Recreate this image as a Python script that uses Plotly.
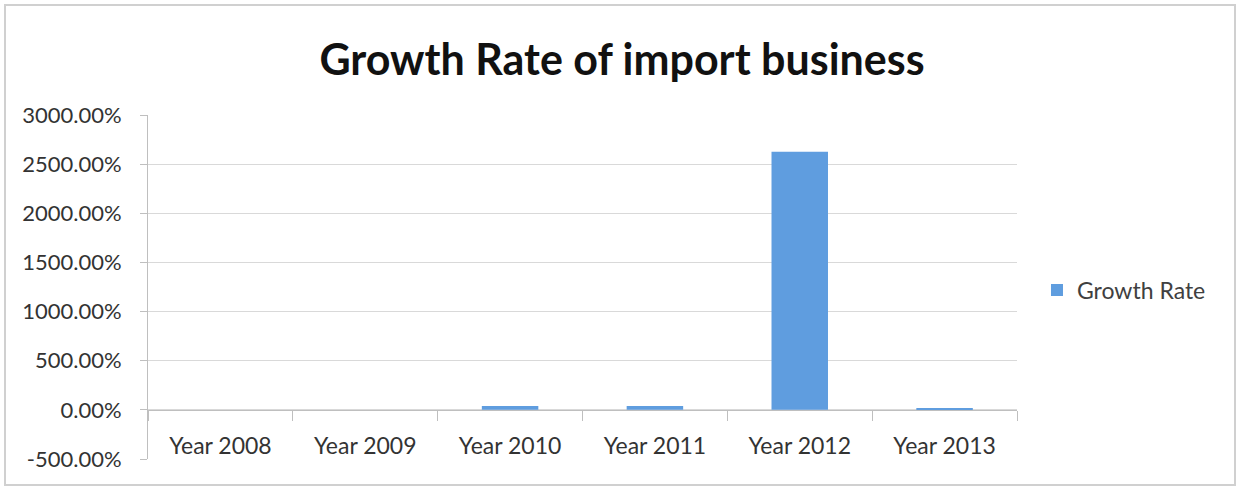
import plotly.graph_objects as go

# Growth rate of the import business by year (percent)
years = ["Year 2008", "Year 2009", "Year 2010", "Year 2011", "Year 2012", "Year 2013"]
growth_rate = [None, 0.0, 40.0, 38.0, 2625.0, 18.0]

# Value-axis ticks
y_ticks = [-500, 0, 500, 1000, 1500, 2000, 2500, 3000]
y_tick_text = ["-500.00%", "0.00%", "500.00%", "1000.00%", "1500.00%",
               "2000.00%", "2500.00%", "3000.00%"]

FONT = "Lato"
BAR_COLOR = "#5f9ddf"
GRID = "#d9d9d9"
AXIS = "#bfbfbf"

y_min, y_max = -500, 3000

fig = go.Figure()
fig.add_trace(go.Bar(
    x=years,
    y=growth_rate,
    name="Growth Rate",
    marker=dict(color=BAR_COLOR, line=dict(width=0)),
))

# Category axis sits on the zero line, ticks at category boundaries
zero_pos = (0 - y_min) / (y_max - y_min)

fig.update_layout(
    width=1238,
    height=487,
    margin=dict(l=148, r=221, t=115, b=28),
    paper_bgcolor="white",
    plot_bgcolor="white",
    bargap=0.61,
    title=dict(
        text="<b>Growth Rate of import business</b>",
        font=dict(family=FONT, size=43, color="#111111"),
        x=622 / 1238, xanchor="center", xref="container",
        y=1 - 60 / 487, yanchor="middle", yref="container",
    ),
    xaxis=dict(
        type="category",
        anchor="free",
        position=zero_pos,
        showline=True, linecolor=AXIS, linewidth=1,
        ticks="outside", ticklen=10, tickcolor=AXIS, tickwidth=1,
        tickson="boundaries",
        showgrid=False,
        ticklabelstandoff=16,
        tickfont=dict(family=FONT, size=23, color="#333333"),
    ),
    yaxis=dict(
        range=[y_min, y_max],
        tickvals=y_ticks,
        ticktext=y_tick_text,
        showgrid=True, gridcolor=GRID, gridwidth=1,
        zeroline=False,
        showline=True, linecolor=AXIS, linewidth=1,
        ticks="outside", ticklen=7, tickcolor=AXIS,
        ticklabelstandoff=14,
        tickfont=dict(family=FONT, size=22, color="#333333"),
    ),
    showlegend=True,
    legend=dict(
        x=1.023, y=0.491, xanchor="left", yanchor="middle",
        font=dict(family=FONT, size=23, color="#404040"),
        bgcolor="rgba(0,0,0,0)",
    ),
    shapes=[
        # outer chart frame
        dict(type="rect", xref="paper", yref="paper",
             x0=(5 - 148) / 869, x1=(1235 - 148) / 869,
             y0=(459 - 485) / 344, y1=(459 - 5) / 344,
             line=dict(color="#d0d0d0", width=2), fillcolor="rgba(0,0,0,0)",
             layer="below"),
    ],
)

fig.write_html("out.html")
